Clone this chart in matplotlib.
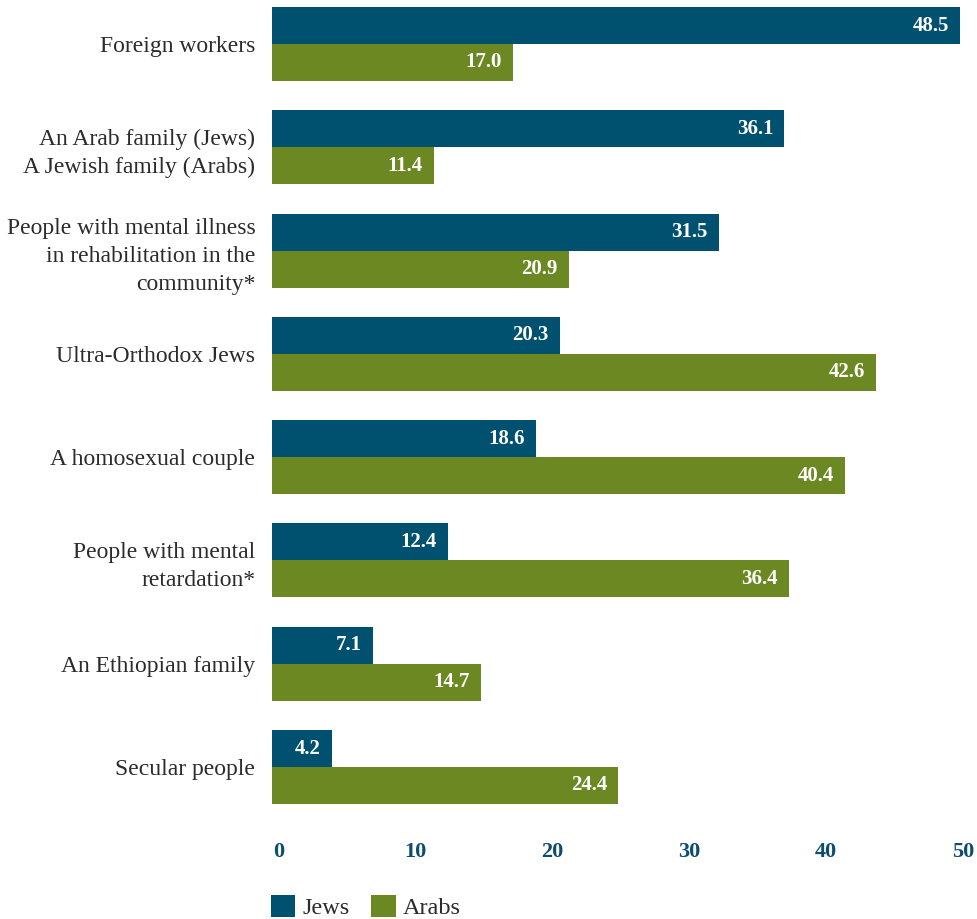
import matplotlib
matplotlib.use("Agg")
import matplotlib.pyplot as plt
import numpy as np

categories = [
    "Foreign workers",
    "An Arab family (Jews)\nA Jewish family (Arabs)",
    "People with mental illness\nin rehabilitation in the\ncommunity*",
    "Ultra-Orthodox Jews",
    "A homosexual couple",
    "People with mental\nretardation*",
    "An Ethiopian family",
    "Secular people",
]
jews = [48.5, 36.1, 31.5, 20.3, 18.6, 12.4, 7.1, 4.2]
arabs = [17.0, 11.4, 20.9, 42.6, 40.4, 36.4, 14.7, 24.4]
tick_values = [0, 10, 20, 30, 40, 50]

JEWS_COLOR = "#00506f"
ARABS_COLOR = "#6b8823"
TICK_COLOR = "#0e4d6d"
TEXT_COLOR = "#2b2b2b"
SERIF = ["Liberation Serif", "DejaVu Serif"]

W, H = 977, 919
fig = plt.figure(figsize=(W / 100, H / 100), dpi=100)
ax = fig.add_axes([272 / W, 1 - 810 / H, 1 - 272 / W, 810 / H])

y = np.arange(len(categories))
bar_h = 0.358
ax.barh(y - bar_h / 2, jews, height=bar_h, color=JEWS_COLOR, label="Jews")
ax.barh(y + bar_h / 2, arabs, height=bar_h, color=ARABS_COLOR, label="Arabs")

for i, (j, a) in enumerate(zip(jews, arabs)):
    for val, yy in ((j, i - bar_h / 2), (a, i + bar_h / 2)):
        ax.annotate(f"{val:.1f}", xy=(val, yy), xytext=(-8, 0),
                    textcoords="offset points", ha="right", va="center",
                    color="white", fontsize=15, fontweight="bold",
                    family=SERIF)

ax.set_xlim(0, (W - 272) / 14.19)
ax.set_ylim(7 + 43 / 103.3, -44 / 103.3)

ax.set_yticks(y)
ax.set_yticklabels(categories, family=SERIF, fontsize=17, color=TEXT_COLOR,
                   linespacing=1.45)
ax.tick_params(axis="y", length=0, pad=12)
ax.set_xticks([])
for s in ax.spines.values():
    s.set_visible(False)

# value scale printed beneath the bars
scale, shift = 0.964, 0.49
sec = ax.secondary_xaxis("bottom",
                         functions=(lambda d: (d - shift) / scale,
                                    lambda v: v * scale + shift))
sec.set_xticks(tick_values)
sec.set_xticklabels([str(v) for v in tick_values], family=SERIF,
                    fontsize=16, fontweight="bold", color=TICK_COLOR)
sec.tick_params(length=0, pad=23)
sec.spines["bottom"].set_visible(False)

handles, labels = ax.get_legend_handles_labels()
leg = fig.legend(handles, labels, loc="lower left",
                 bbox_to_anchor=(261 / W, -0.011), ncol=2, frameon=False,
                 prop={"family": SERIF, "size": 17.5},
                 handlelength=1.0, handleheight=1.0, handletextpad=0.3,
                 columnspacing=0.9, borderaxespad=0.0)
for t in leg.get_texts():
    t.set_color(TEXT_COLOR)

fig.savefig("out.png", dpi=100)
